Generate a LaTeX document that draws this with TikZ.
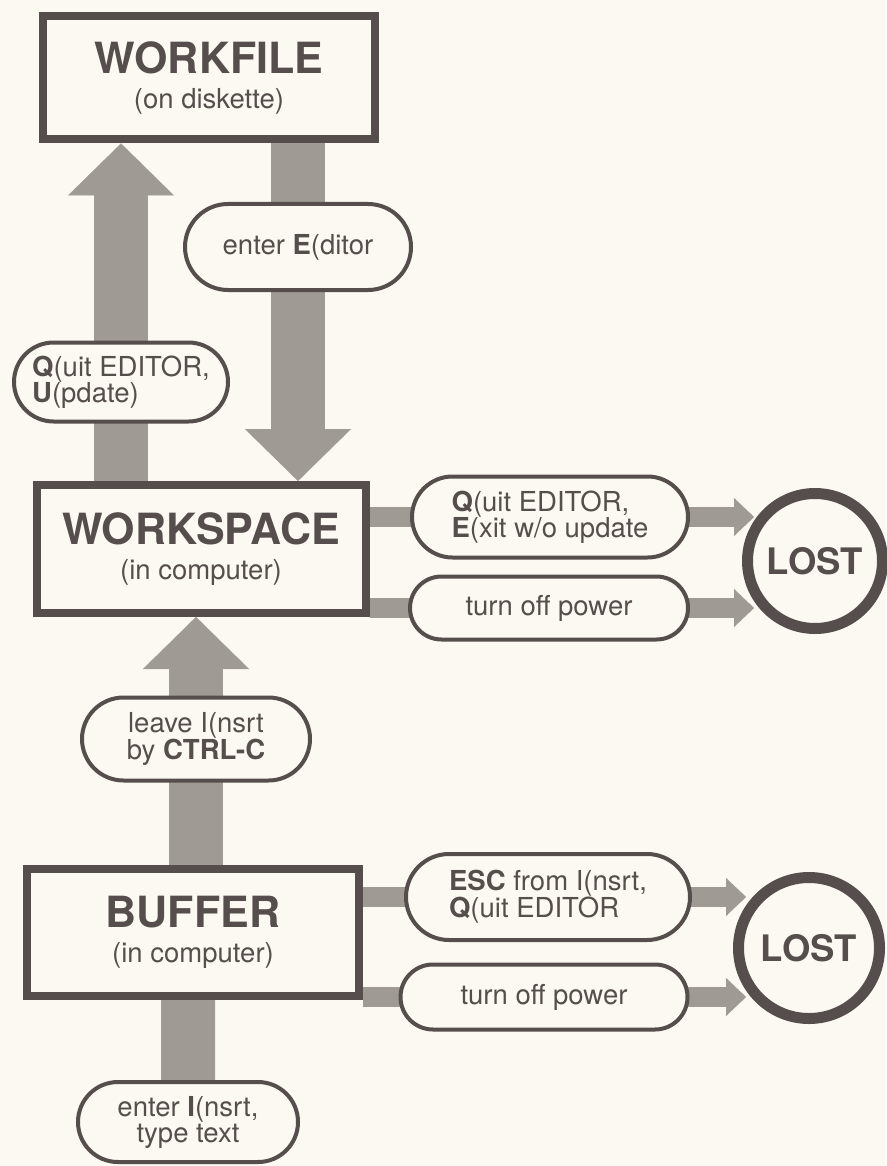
\documentclass[tikz,border=0pt]{standalone}
\usepackage{fontspec}
\setmainfont{TeX Gyre Heros}
\usetikzlibrary{shapes.misc,arrows.meta,calc}

\definecolor{ink}{RGB}{86,78,76}
\definecolor{screen}{RGB}{160,154,149}
\definecolor{paper}{RGB}{251,249,242}

\newcommand\boxtitle{\fontsize{43}{35}\selectfont\bfseries}
\newcommand\boxsub{\fontsize{27.5}{35}\selectfont\mdseries}
\newcommand\pilltext{\fontsize{27.5}{26}\selectfont}

\pgfdeclarelayer{back}
\pgfdeclarelayer{band}
\pgfsetlayers{back,band,main}

\begin{document}
\begin{tikzpicture}[x=1pt,y=-1pt,
  store/.style={rectangle,draw=ink,fill=paper,line width=8pt,text=ink,align=center,inner sep=0pt,font=\boxsub},
  pill/.style={rounded rectangle,draw=ink,fill=paper,line width=4pt,text=ink,inner sep=0pt,font=\pilltext},
  lost/.style={circle,draw=ink,fill=paper,line width=11pt,text=ink,inner sep=0pt,font=\fontsize{36.5}{36}\selectfont\bfseries},
  bigband/.style={draw=screen,line width=54pt,-{Triangle[width=106pt,length=52pt,line width=0.1pt]}},
  smallband/.style={draw=screen,line width=20pt,-{Triangle[width=38pt,length=20pt,line width=0.1pt]}}]
\useasboundingbox (0,0) rectangle (886,1166);
\begin{pgfonlayer}{back}
\fill[paper] (0,0) rectangle (886,1166);
\end{pgfonlayer}

% the three stores
\node[store,minimum width=332pt,minimum height=123pt] (workfile) at (209,78) {{\boxtitle WORKFILE}\\(on diskette)};
\node[store,minimum width=329pt,minimum height=128pt] (workspace) at (201,549) {{\boxtitle WORKSPACE}\\(in computer)};
\node[store,minimum width=332pt,minimum height=127pt] (buffer) at (193,932) {{\boxtitle BUFFER}\\(in computer)};

% where the text ends up
\node[lost,minimum size=135pt] (lost1) at (815,561) {LOST};
\node[lost,minimum size=141pt] (lost2) at (809,948) {LOST};

% commands
\node[pill,minimum width=226pt,minimum height=86pt] (editor) at (298,247) {enter \textbf{E}(ditor};
\node[pill,minimum width=214pt,minimum height=79pt,align=left] (update) at (121,382) {\textbf{Q}(uit EDITOR,\\\textbf{U}(pdate)};
\node[pill,minimum width=276pt,minimum height=81pt,align=left] (quitexit) at (550,517) {\textbf{Q}(uit EDITOR,\\\textbf{E}(xit w/o update};
\node[pill,minimum width=278pt,minimum height=63pt] (power1) at (549,608) {turn off power};
\node[pill,minimum width=228pt,minimum height=83pt,align=center] (ctrlc) at (196,739) {leave I(nsrt\\by \textbf{CTRL-C}};
\node[pill,minimum width=284pt,minimum height=86pt,align=left] (escquit) at (548,897) {\textbf{ESC} from I(nsrt,\\\textbf{Q}(uit EDITOR};
\node[pill,minimum width=287pt,minimum height=65pt] (power2) at (544,997) {turn off power};
\node[pill,minimum width=220pt,minimum height=80pt,align=center] (insert) at (188,1122) {enter \textbf{I}(nsrt,\\type text};

\begin{pgfonlayer}{band}
\draw[bigband] (workspace.north -| update) -- (workfile.south -| update);
\draw[bigband] (workfile.south -| editor) -- (workspace.north -| editor);
\draw[bigband] (buffer.north -| ctrlc) -- (workspace.south -| ctrlc);
\draw[screen,line width=54pt] (insert) -- (buffer.south -| insert);
\draw[smallband] (workspace.east |- quitexit) -- ($(lost1.west |- quitexit)+(12,0)$);
\draw[smallband] (workspace.east |- power1) -- ($(lost1.west |- power1)+(12,0)$);
\draw[smallband] (buffer.east |- escquit) -- ($(lost2.west |- escquit)+(13,0)$);
\draw[smallband] (buffer.east |- power2) -- ($(lost2.west |- power2)+(13,0)$);
\end{pgfonlayer}
\end{tikzpicture}
\end{document}
